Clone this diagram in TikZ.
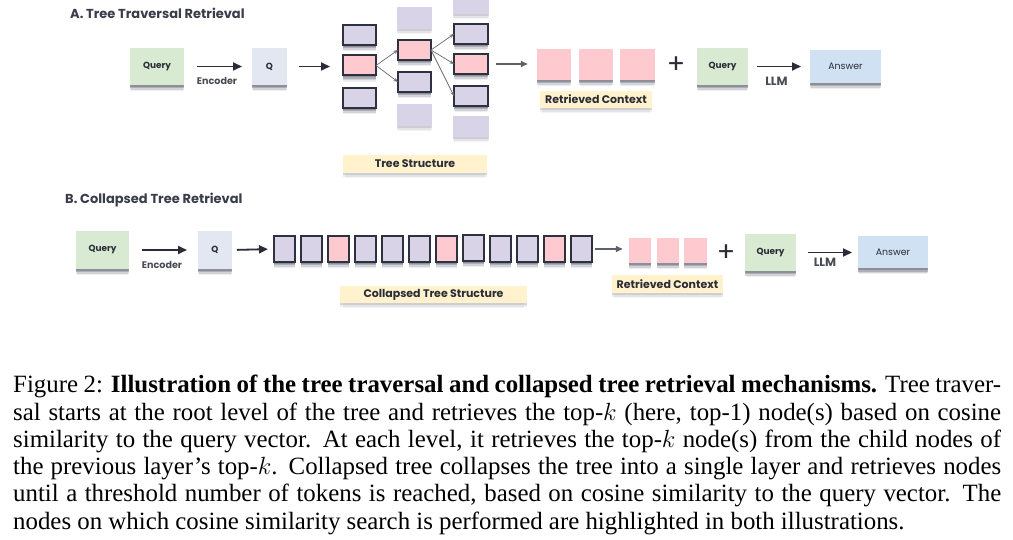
\documentclass[tikz,border=0pt]{standalone}
\usepackage{fontspec}
\setmainfont{Liberation Serif}
\newfontfamily\df{Poppins}
\usetikzlibrary{arrows.meta,shadows}
\definecolor{qgreen}{HTML}{D9EAD3}
\definecolor{qblue}{HTML}{E2E7F1}
\definecolor{npurple}{HTML}{D9D3E8}
\definecolor{npink}{HTML}{FEC9CF}
\definecolor{ansblue}{HTML}{CFE1F2}
\definecolor{lblyellow}{HTML}{FFF2CC}
\definecolor{bord}{HTML}{2E3140}
\definecolor{ink}{HTML}{2A2C36}
\definecolor{titleink}{HTML}{3A3C4A}
\definecolor{shc}{HTML}{2A2F45}
\tikzset{
  shad/.style={general shadow={shadow yshift=-6.5pt, shadow scale=0.97, fill=shc, opacity=0.08},
               general shadow={shadow yshift=-5pt, fill=shc, opacity=0.14},
               general shadow={shadow yshift=-3.5pt, fill=shc, opacity=0.22},
               general shadow={shadow yshift=-2pt, fill=shc, opacity=0.25}},
  shadlight/.style={general shadow={shadow yshift=-5.5pt, shadow scale=0.97, fill=shc, opacity=0.05},
               general shadow={shadow yshift=-4pt, fill=shc, opacity=0.08},
               general shadow={shadow yshift=-2.5pt, fill=shc, opacity=0.12}},
  box/.style={inner sep=0pt, outer sep=0pt, text=ink, shad,
              font=\df\bfseries\fontsize{8.9}{10}\selectfont},
  qbox/.style={box, fill=qgreen},
  Qbox/.style={box, fill=qblue},
  abox/.style={box, fill=ansblue, text=ink, font=\df\fontsize{9.4}{10}\selectfont},
  tnode/.style={shad, draw=bord, line width=2pt, fill=npurple, inner sep=0pt, outer sep=0pt,
                minimum width=33pt, minimum height=20pt},
  tpink/.style={tnode, fill=npink},
  fnode/.style={shadlight, fill=npurple, inner sep=0pt, minimum width=35pt, minimum height=22pt},
  snode/.style={tnode, minimum width=21pt, minimum height=26pt},
  spink/.style={snode, fill=npink},
  rnode/.style={shad, fill=npink, inner sep=0pt},
  lbl/.style={shadlight, fill=lblyellow, inner sep=0pt, text=ink,
              font=\df\bfseries\fontsize{11}{12}\selectfont},
  sublbl/.style={inner sep=0pt, text=ink!85, font=\df\bfseries\fontsize{9.6}{10}\selectfont},
  llmlbl/.style={inner sep=0pt, text=ink!85, font=\df\bfseries\fontsize{12}{13}\selectfont},
  ttl/.style={inner sep=0pt, anchor=west, text=titleink, font=\df\bfseries\fontsize{13}{14}\selectfont},
  plus/.style={inner sep=0pt, text=ink, font=\df\fontsize{27}{27}\selectfont},
  bigarrow/.style={draw=ink, line width=1.8pt, -{Triangle[length=9pt,width=8pt]}},
  midarrow/.style={draw=ink!75, line width=1.4pt, -{Triangle[length=7pt,width=6pt]}},
  thinarrow/.style={draw=ink!70, line width=0.7pt, -{Stealth[length=4.5pt,width=3.5pt]}},
}
\begin{document}
\begin{tikzpicture}[x=1pt,y=-1pt]
\useasboundingbox[fill=white] (0,0) rectangle (1013,540);

% ---------------- A ----------------
\node[ttl] (tA) at (70,13) {A.\ Tree Traversal Retrieval};
\node[qbox, minimum width=54pt, minimum height=37pt] (qA) at (157,66.5) {Query};
\node[Qbox, minimum width=35pt, minimum height=37pt] (QA) at (269.5,66.5) {Q};
\draw[bigarrow, shorten <=13pt, shorten >=10pt] (qA.east) -- (QA.west);
\node[sublbl] (encA) at (217,81) {Encoder};

% tree column 1
\node[tnode] (c1a) at (359.5,35) {};
\node[tpink] (c1b) at (359.5,65.5) {};
\node[tnode] (c1c) at (359.5,98) {};
% column 2
\node[fnode] (f2a) at (414.5,18) {};
\node[tpink] (c2b) at (414.5,50) {};
\node[tnode] (c2c) at (414.5,82) {};
\node[fnode] (f2d) at (414.5,115) {};
% column 3
\node[fnode, minimum width=36pt] (f3a) at (471,3) {};
\node[tnode, minimum width=34pt] (c3b) at (471,34) {};
\node[tpink, minimum width=34pt] (c3c) at (471,64) {};
\node[tnode, minimum width=34pt] (c3d) at (471,96) {};
\node[fnode, minimum width=36pt, minimum height=21pt] (f3e) at (471,126.5) {};

\draw[bigarrow, shorten <=12pt, shorten >=13pt] (QA.east) -- (QA.east -| c1b.west);
\draw[thinarrow] (c1b.east) -- (c2b.west);
\draw[thinarrow] (c1b.east) -- (c2c.west);
\draw[thinarrow] (c2b.east) -- (c3b.west);
\draw[thinarrow] (c2b.east) -- (c3c.west);
\draw[thinarrow] (c2b.east) -- (c3d.west);

\node[lbl, minimum width=144pt, minimum height=18pt] (tsA) at (415,164) {Tree Structure};

\node[rnode, minimum width=34pt, minimum height=31pt] (r1) at (554,64.5) {};
\node[rnode, minimum width=34pt, minimum height=31pt] (r2) at (596,64.5) {};
\node[rnode, minimum width=35pt, minimum height=31pt] (r3) at (637.5,64.5) {};
\draw[midarrow, shorten <=8pt, shorten >=9pt] (c3c.east) -- (c3c.east -| r1.west);
\node[lbl, minimum width=112pt, minimum height=17pt] (rcA) at (596,99.5) {Retrieved Context};

\node[plus] (pA) at (676,65) {+};
\node[qbox, minimum width=51pt, minimum height=37pt] (qA2) at (722.5,66.5) {Query};
\node[abox, minimum width=71pt, minimum height=33pt] (ansA) at (845.5,66.5) {Answer};
\draw[bigarrow, shorten <=9pt, shorten >=9pt] (qA2.east) -- (ansA.west);
\node[llmlbl] (llmA) at (776.5,81) {LLM};

% ---------------- B ----------------
\node[ttl] (tB) at (65,200) {B.\ Collapsed Tree Retrieval};
\node[qbox, minimum width=53pt, minimum height=38pt] (qB) at (102.5,250) {Query};
\node[Qbox, minimum width=34pt, minimum height=38pt] (QB) at (215,250) {Q};
\draw[bigarrow, shorten <=13pt, shorten >=11pt] (qB.east) -- (QB.west);
\node[sublbl] (encB) at (162,265) {Encoder};

\node[snode] (s1) at (284.5,249) {};
\node[snode] (s2) at (311.5,249) {};
\node[spink] (s3) at (338.5,249) {};
\node[snode] (s4) at (365.5,249) {};
\node[snode] (s5) at (392.5,249) {};
\node[snode] (s6) at (419.5,249) {};
\node[spink] (s7) at (446.5,249) {};
\node[snode] (s8) at (473.5,248) {};
\node[snode] (s9) at (500.5,249) {};
\node[snode] (s10) at (527.5,249) {};
\node[spink] (s11) at (554.5,249) {};
\node[snode] (s12) at (581.5,249) {};
\draw[bigarrow, shorten <=5pt, shorten >=6pt] (QB.east) -- (s1.west);
\node[lbl, minimum width=187pt, minimum height=17pt] (tsB) at (433.5,294.5) {Collapsed Tree Structure};

\node[rnode, minimum width=22pt, minimum height=25pt] (t1) at (640,250.5) {};
\node[rnode, minimum width=22pt, minimum height=25pt] (t2) at (668,250.5) {};
\node[rnode, minimum width=23pt, minimum height=25pt] (t3) at (695.5,250.5) {};
\draw[midarrow, shorten <=3pt, shorten >=6pt] (s12.east) -- (s12.east -| t1.west);
\node[lbl, minimum width=111pt, minimum height=18pt] (rcB) at (667.5,284) {Retrieved Context};

\node[plus] (pB) at (726,253) {+};
\node[qbox, minimum width=51pt, minimum height=37pt] (qB2) at (770.5,252.5) {Query};
\node[abox, minimum width=70pt, minimum height=32pt] (ansB) at (893,252.5) {Answer};
\draw[bigarrow, shorten <=12pt, shorten >=6pt] (qB2.east) -- (ansB.west);
\node[llmlbl] (llmB) at (825,262) {LLM};

% ---------------- caption ----------------
\node[anchor=north west, inner sep=0pt, text width=988pt, align=justify,
      font=\fontsize{24.86}{27.3}\selectfont] (cap) at (13,375) {%
Figure 2: \textbf{Illustration of the tree traversal and collapsed tree retrieval mechanisms.} Tree traver-\linebreak
sal starts at the root level of the tree and retrieves the top-$k$ (here, top-1) node(s) based on cosine\linebreak
similarity to the query vector.  At each level, it retrieves the top-$k$ node(s) from the child nodes of\linebreak
the previous layer's top-$k$.  Collapsed tree collapses the tree into a single layer and retrieves nodes\linebreak
until a threshold number of tokens is reached, based on cosine similarity to the query vector.  The\linebreak
nodes on which cosine similarity search is performed are highlighted in both illustrations.};
\end{tikzpicture}
\end{document}
